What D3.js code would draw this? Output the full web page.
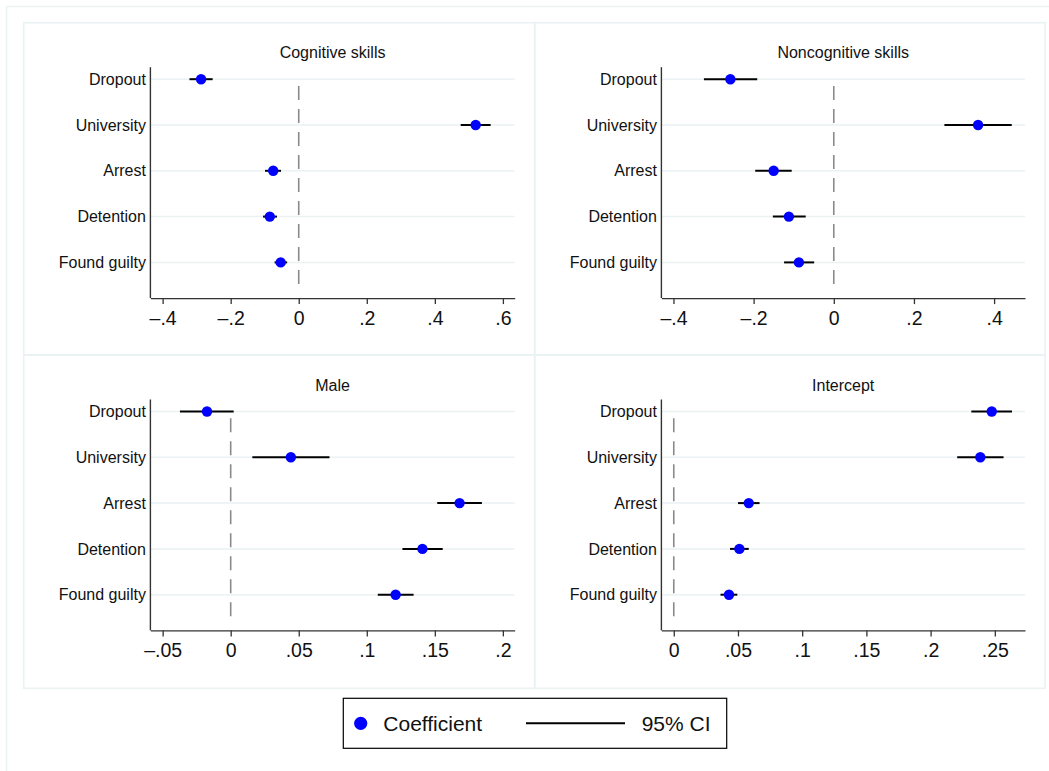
<!DOCTYPE html>
<html>
<head>
<meta charset="utf-8">
<script src="https://cdn.jsdelivr.net/npm/d3@7"></script>
<style>
  body { margin: 0; background: #fff; }
  svg { display: block; font-family: "Liberation Sans", Arial, Helvetica, sans-serif; }
</style>
</head>
<body>
<div class="chart"></div>
<script>
// Data
const categories = ["Dropout", "University", "Arrest", "Detention", "Found guilty"];
const panelTitles = ["Cognitive skills", "Noncognitive skills", "Male", "Intercept"];

const cognitiveCoef = [-0.287, 0.520, -0.075, -0.085, -0.053];
const cognitiveLow  = [-0.321, 0.476, -0.099, -0.105, -0.071];
const cognitiveHigh = [-0.253, 0.564, -0.052, -0.064, -0.034];

const noncognitiveCoef = [-0.258, 0.360, -0.150, -0.112, -0.087];
const noncognitiveLow  = [-0.324, 0.276, -0.196, -0.152, -0.124];
const noncognitiveHigh = [-0.191, 0.444, -0.105, -0.070, -0.049];

const maleCoef = [-0.0174, 0.0442, 0.1682, 0.1409, 0.1212];
const maleLow  = [-0.0373, 0.0159, 0.1518, 0.1262, 0.1081];
const maleHigh = [ 0.0022, 0.0726, 0.1846, 0.1558, 0.1344];

const interceptCoef = [0.2476, 0.2387, 0.0584, 0.0511, 0.0430];
const interceptLow  = [0.2317, 0.2207, 0.0500, 0.0438, 0.0364];
const interceptHigh = [0.2634, 0.2568, 0.0668, 0.0584, 0.0495];

const cognitiveTicks = [-0.4, -0.2, 0, 0.2, 0.4, 0.6];
const noncognitiveTicks = [-0.4, -0.2, 0, 0.2, 0.4];
const maleTicks = [-0.05, 0, 0.05, 0.1, 0.15, 0.2];
const interceptTicks = [0, 0.05, 0.1, 0.15, 0.2, 0.25];

const legendLabels = ["Coefficient", "95% CI"];

// Build the panel table from the arrays
const panels = [
    {title: panelTitles[0], coef: cognitiveCoef, lo: cognitiveLow, hi: cognitiveHigh, ticks: cognitiveTicks, domain: [-0.4359, 0.6347]},
    {title: panelTitles[1], coef: noncognitiveCoef, lo: noncognitiveLow, hi: noncognitiveHigh, ticks: noncognitiveTicks, domain: [-0.4301, 0.4771]},
    {title: panelTitles[2], coef: maleCoef, lo: maleLow, hi: maleHigh, ticks: maleTicks, domain: [-0.0590, 0.2087]},
    {title: panelTitles[3], coef: interceptCoef, lo: interceptLow, hi: interceptHigh, ticks: interceptTicks, domain: [-0.00963, 0.2735]}
];

const W = 1049, H = 771;
const grid = "#eaf2f3";

const svg = d3.select(".chart").append("svg")
    .attr("width", W)
    .attr("height", H);

// outer graph frame (runs off the page to the right and bottom)
svg.append("rect")
    .attr("x", 6.5).attr("y", 6.5)
    .attr("width", W + 20).attr("height", H + 20)
    .attr("fill", "none")
    .attr("stroke", grid)
    .attr("stroke-width", 1.4);

// Stata style number labels: no leading zero, dash for minus
const fmt = function(v) {
    if (v === 0) return "0";
    let s = String(+v.toFixed(3)).replace("0.", ".");
    return s.replace("-", "\u2013");
};

// panel geometry
const colX = [23.7, 534.7];
const colW = [511, 510.3];
const rowY = [22.7, 355];
const rowH = [332.3, 333.3];
const m = {left: 126.7, right: 20};

panels.forEach(function(p, i) {
    const c = i % 2, r = Math.floor(i / 2);
    const g = svg.append("g")
        .attr("transform", `translate(${colX[c]}, ${rowY[r]})`);

    g.append("rect")
        .attr("x", 0).attr("y", 0)
        .attr("width", colW[c]).attr("height", rowH[r])
        .attr("fill", "none")
        .attr("stroke", grid)
        .attr("stroke-width", 1.6);

    const x = d3.scaleLinear()
        .domain(p.domain)
        .range([m.left, colW[c] - m.right]);

    const y = d3.scalePoint()
        .domain(categories)
        .range([56.5, 56.5 + 4 * 45.8]);

    const axisY = 275.4;

    // gridlines
    g.selectAll(".grid")
        .data(categories)
        .enter().append("line")
        .attr("x1", m.left).attr("x2", colW[c] - m.right)
        .attr("y1", d => y(d)).attr("y2", d => y(d))
        .attr("stroke", grid)
        .attr("stroke-width", 1.5);

    // zero line
    g.append("line")
        .attr("x1", x(0)).attr("x2", x(0))
        .attr("y1", 63.3).attr("y2", 262.6)
        .attr("stroke", "#8a8a8a")
        .attr("stroke-width", 1.6)
        .attr("stroke-dasharray", "14,9");

    // title
    g.append("text")
        .attr("x", (m.left + colW[c] - m.right) / 2)
        .attr("y", 35.6)
        .attr("text-anchor", "middle")
        .attr("font-size", 16)
        .attr("fill", "#111")
        .text(p.title);

    // axes
    const xAxis = d3.axisBottom(x)
        .tickValues(p.ticks)
        .tickFormat(fmt)
        .tickSizeInner(6)
        .tickSizeOuter(0)
        .tickPadding(7);

    const xg = g.append("g")
        .attr("transform", `translate(0, ${axisY})`)
        .call(xAxis);
    xg.select(".domain").attr("stroke", "#333").attr("stroke-width", 1.4);
    xg.selectAll(".tick line").attr("stroke", "#333").attr("stroke-width", 1.3);
    xg.selectAll(".tick text")
        .attr("font-size", 19.5)
        .attr("font-family", "Liberation Sans, Arial, sans-serif")
        .attr("fill", "#111");

    const yg = g.append("g")
        .attr("transform", `translate(${m.left}, 0)`)
        .call(d3.axisLeft(y).tickSize(0).tickPadding(4.5));
    yg.select(".domain").remove();
    yg.selectAll(".tick text")
        .attr("font-size", 16)
        .attr("font-family", "Liberation Sans, Arial, sans-serif")
        .attr("fill", "#111");

    g.append("line")
        .attr("x1", m.left).attr("x2", m.left)
        .attr("y1", 44.5).attr("y2", axisY)
        .attr("stroke", "#333")
        .attr("stroke-width", 1.4);

    // confidence intervals
    g.selectAll(".ci")
        .data(categories)
        .enter().append("line")
        .attr("x1", (d, k) => x(p.lo[k]))
        .attr("x2", (d, k) => x(p.hi[k]))
        .attr("y1", d => y(d)).attr("y2", d => y(d))
        .attr("stroke", "#000")
        .attr("stroke-width", 2);

    // point estimates
    g.selectAll(".pt")
        .data(categories)
        .enter().append("circle")
        .attr("cx", (d, k) => x(p.coef[k]))
        .attr("cy", d => y(d))
        .attr("r", 5.2)
        .attr("fill", "#0000ff");
});

// legend
const lg = svg.append("g");
lg.append("rect")
    .attr("x", 343.3).attr("y", 698.3)
    .attr("width", 383.4).attr("height", 50)
    .attr("fill", "#fff")
    .attr("stroke", "#000")
    .attr("stroke-width", 1.2);
lg.append("circle")
    .attr("cx", 360.7).attr("cy", 723.3)
    .attr("r", 6.6)
    .attr("fill", "#0000ff");
lg.append("text")
    .attr("x", 383.3).attr("y", 730.7)
    .attr("font-size", 21)
    .attr("fill", "#111")
    .text(legendLabels[0]);
lg.append("line")
    .attr("x1", 526).attr("x2", 625)
    .attr("y1", 723.3).attr("y2", 723.3)
    .attr("stroke", "#000")
    .attr("stroke-width", 2);
lg.append("text")
    .attr("x", 641.7).attr("y", 730.7)
    .attr("font-size", 21)
    .attr("fill", "#111")
    .text(legendLabels[1]);
</script>
</body>
</html>
